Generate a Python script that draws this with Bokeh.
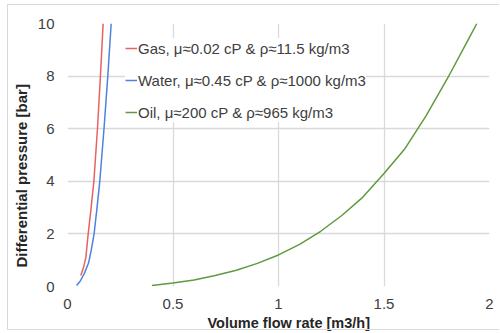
from bokeh.plotting import figure
from bokeh.models import Range1d, FixedTicker, Legend, LegendItem, Title, InlineStyleSheet
from bokeh.embed import file_html
from bokeh.resources import INLINE

gas_x = [0.063, 0.075, 0.087, 0.098, 0.112, 0.125, 0.142, 0.156, 0.169]
gas_y = [0.42, 0.7, 1.1, 2.0, 3.0, 4.0, 6.0, 8.0, 10.0]
water_x = [0.043, 0.06, 0.08, 0.1, 0.113, 0.126, 0.14, 0.153, 0.173, 0.191, 0.207]
water_y = [0.04, 0.2, 0.5, 0.9, 1.4, 2.0, 3.0, 4.0, 6.0, 8.0, 10.0]
oil_x = [0.40, 0.5, 0.6, 0.7, 0.8, 0.9, 1.0, 1.1, 1.2, 1.3, 1.4, 1.5, 1.6, 1.7, 1.8, 1.9, 1.94]
oil_y = [0.04, 0.13, 0.25, 0.42, 0.62, 0.88, 1.2, 1.6, 2.1, 2.7, 3.4, 4.3, 5.25, 6.5, 7.9, 9.4, 10.0]
labels = ["Gas, μ≈0.02 cP & ρ≈11.5 kg/m3",
          "Water, μ≈0.45 cP & ρ≈1000 kg/m3",
          "Oil, μ≈200 cP & ρ≈965 kg/m3"]
x_ticks = [0, 0.5, 1, 1.5, 2]
y_ticks = [0, 2, 4, 6, 8, 10]
x_title = "Volume flow rate [m3/h]"
y_title = "Differential pressure [bar]"

FONT = "Arial"

p = figure(width=500, height=333, output_backend="svg", toolbar_location=None,
           x_range=Range1d(0, 2), y_range=Range1d(0, 10),
           min_border_left=67, min_border_right=11, min_border_top=23, min_border_bottom=47)
p.outline_line_color = None
p.background_fill_color = "white"
p.border_fill_color = "white"

r1 = p.line(gas_x, gas_y, line_color="#e8625f", line_width=1.5)
r2 = p.line(water_x, water_y, line_color="#4f81e0", line_width=1.5)
r3 = p.line(oil_x, oil_y, line_color="#5f9a3e", line_width=1.5)

for ax in (p.xaxis[0], p.yaxis[0]):
    ax.axis_line_color = None
    ax.major_tick_line_color = None
    ax.minor_tick_line_color = None
    ax.major_tick_out = 0
    ax.major_tick_in = 0
    ax.major_label_text_font = FONT
    ax.major_label_text_font_size = "15px"
    ax.major_label_text_color = "#404040"

p.xaxis.ticker = FixedTicker(ticks=x_ticks)
p.yaxis.ticker = FixedTicker(ticks=y_ticks)
p.xaxis.major_label_overrides = {0: "0", 0.5: "0.5", 1: "1", 1.5: "1.5", 2: "2"}
p.xaxis.major_label_standoff = 12
p.yaxis.major_label_standoff = 13

xt = Title(text=x_title, align="left", offset=140, standoff=2,
           text_font=FONT, text_font_size="14.5px", text_font_style="bold",
           text_color="#262626")
yt = Title(text=y_title, align="left", offset=19, standoff=10,
           text_font=FONT, text_font_size="15px", text_font_style="bold",
           text_color="#262626")
p.add_layout(xt, "below")
p.add_layout(yt, "left")

p.xgrid.grid_line_color = "#d9d9d9"
p.ygrid.grid_line_color = "#d9d9d9"
p.xgrid.grid_line_width = 1.3
p.ygrid.grid_line_width = 1.3

frame_css = InlineStyleSheet(css="""
:host::after {
  content: "";
  position: absolute;
  left: 7px;
  top: 4px;
  width: 492px;
  height: 326px;
  border-top: 1px solid #d9d9d9;
  border-left: 1px solid #d9d9d9;
  border-bottom: 1px solid #d9d9d9;
  pointer-events: none;
  box-sizing: border-box;
}
""")
p.stylesheets = [frame_css]

legend = Legend(items=[LegendItem(label=labels[0], renderers=[r1]),
                       LegendItem(label=labels[1], renderers=[r2]),
                       LegendItem(label=labels[2], renderers=[r3])],
                location=(58, 164))
legend.border_line_color = None
legend.background_fill_color = "white"
legend.background_fill_alpha = 1.0
legend.padding = 10
legend.margin = 0
legend.spacing = 12
legend.glyph_width = 12
legend.glyph_height = 20
legend.label_height = 20
legend.label_standoff = 1
legend.label_text_font = FONT
legend.label_text_font_size = "15px"
legend.label_text_color = "#404040"
p.add_layout(legend, "center")

open("out.html", "w").write(file_html(p, INLINE))
